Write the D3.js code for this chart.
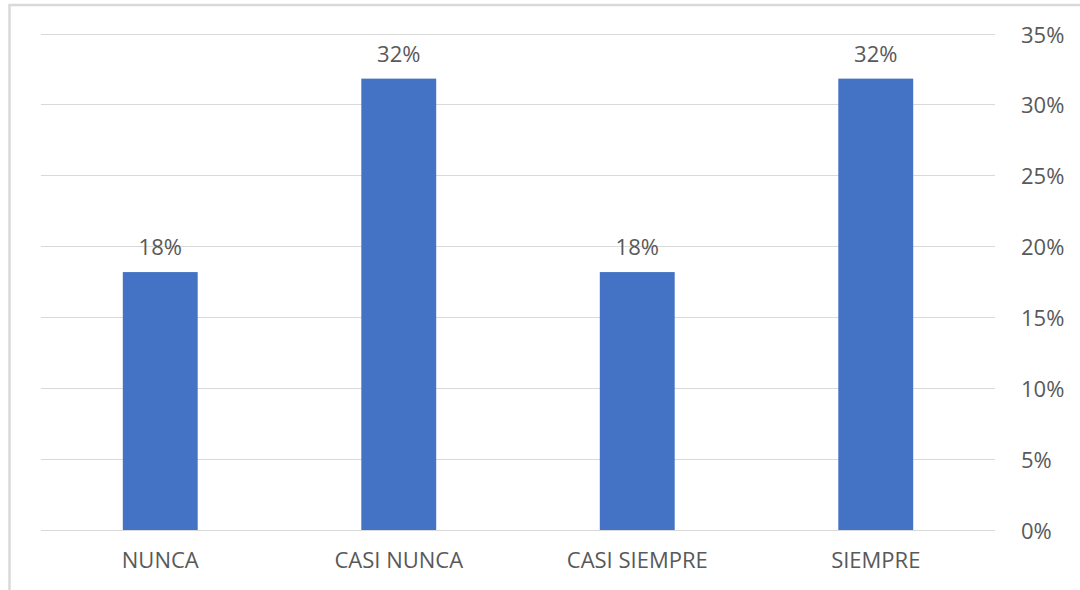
<!DOCTYPE html>
<html>
<head>
<meta charset="utf-8">
<script src="https://cdn.jsdelivr.net/npm/d3@7"></script>
<style>
  html, body { margin: 0; padding: 0; background: #ffffff; }
  svg { display: block; }
  text { font-family: "Open Sans", "Liberation Sans", sans-serif; fill: #595959; }
</style>
</head>
<body>
<svg id="chart" width="1080" height="590"></svg>
<script>
const categories = ["NUNCA", "CASI NUNCA", "CASI SIEMPRE", "SIEMPRE"];
const values = [4 / 22, 7 / 22, 4 / 22, 7 / 22];
const tickValues = [0, 0.05, 0.10, 0.15, 0.20, 0.25, 0.30, 0.35];

const svg = d3.select("#chart");

// chart frame
svg.append("rect")
  .attr("x", 9.5).attr("y", 5)
  .attr("width", 1200).attr("height", 700)
  .attr("fill", "none")
  .attr("stroke", "#d9d9d9")
  .attr("stroke-width", 2.5);

const plot = { left: 41, right: 995, top: 33.5, bottom: 530 };

const x = d3.scaleBand()
  .domain(categories)
  .range([plot.left, plot.right])
  .paddingInner(0.686)
  .paddingOuter(0.343);

const y = d3.scaleLinear()
  .domain([0, 0.35])
  .range([plot.bottom, plot.top]);

// gridlines
svg.append("g")
  .selectAll("line")
  .data(tickValues)
  .join("line")
  .attr("x1", plot.left).attr("x2", plot.right)
  .attr("y1", d => Math.round(y(d)) + 0.5)
  .attr("y2", d => Math.round(y(d)) + 0.5)
  .attr("stroke", "#d9d9d9")
  .attr("stroke-width", 1);

// right axis labels
const yAxis = d3.axisRight(y)
  .tickValues(tickValues)
  .tickFormat(d3.format(".0%"))
  .tickSize(0)
  .tickPadding(0);

const yg = svg.append("g")
  .attr("transform", `translate(1021,0)`)
  .call(yAxis);
yg.select(".domain").remove();
yg.selectAll("text")
  .attr("x", 0)
  .attr("dy", null)
  .attr("y", 8.5)
  .attr("text-anchor", "start")
  .style("font-size", "22px")
  .style("font-family", "'Open Sans', 'Liberation Sans', sans-serif")
  .attr("fill", "#595959");

// bars
svg.append("g")
  .selectAll("rect")
  .data(categories)
  .join("rect")
  .attr("x", d => x(d))
  .attr("width", x.bandwidth())
  .attr("y", (d, i) => y(values[i]))
  .attr("height", (d, i) => y(0) - y(values[i]))
  .attr("fill", "#4472c4");

// value labels
svg.append("g")
  .selectAll("text")
  .data(categories)
  .join("text")
  .attr("x", d => x(d) + x.bandwidth() / 2)
  .attr("y", (d, i) => y(values[i]) - 17)
  .attr("text-anchor", "middle")
  .style("font-size", "22px")
  .text((d, i) => d3.format(".0%")(values[i]));

// x axis labels
const xAxis = d3.axisBottom(x).tickSize(0).tickPadding(0);
const xg = svg.append("g")
  .attr("transform", `translate(0,${plot.bottom})`)
  .call(xAxis);
xg.select(".domain").remove();
xg.selectAll("text")
  .attr("dy", null)
  .attr("y", 38)
  .style("font-size", "22px")
  .style("font-family", "'Open Sans', 'Liberation Sans', sans-serif")
  .attr("fill", "#595959");
</script>
</body>
</html>
